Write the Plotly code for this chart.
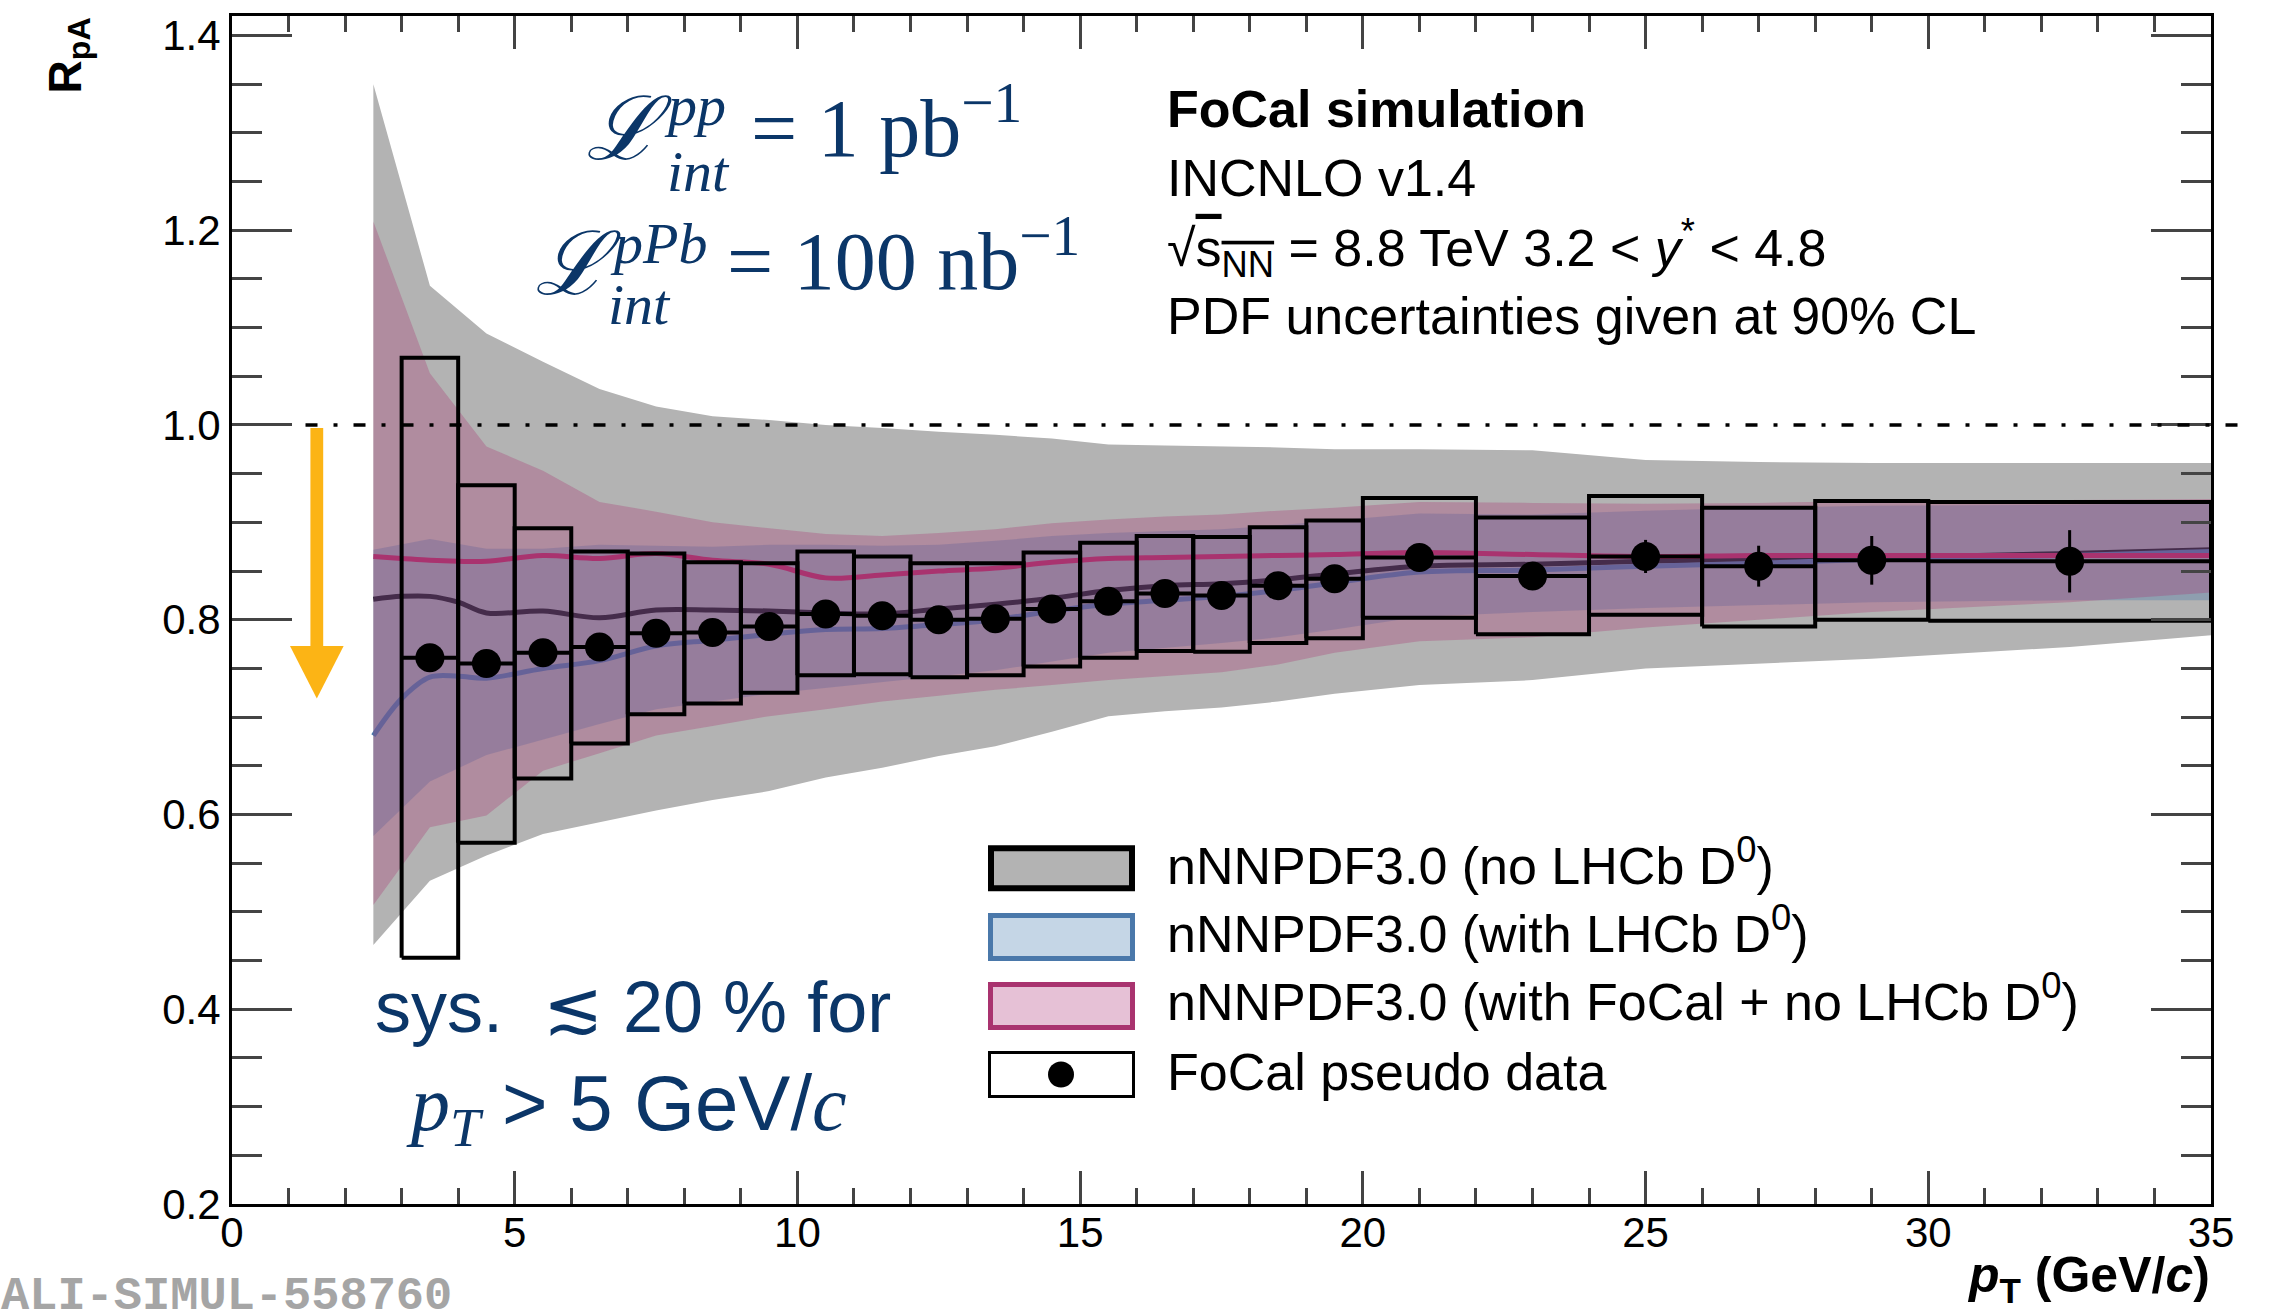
import plotly.graph_objects as go

# ---------------- data ----------------
band_x = [2.5, 3.5, 4.5, 5.5, 6.5, 7.5, 8.5, 9.5, 10.5, 11.5, 12.5, 13.5, 14.5, 15.5,
          16.5, 17.5, 18.5, 19.5, 21, 23, 25, 27, 29, 32.5, 35]
nolhcb_hi = [1.350, 1.143, 1.094, 1.065, 1.037, 1.019, 1.009, 1.005, 1.000, 0.997, 0.993, 0.990,
             0.986, 0.980, 0.979, 0.978, 0.977, 0.975, 0.975, 0.974, 0.964, 0.962, 0.961, 0.961, 0.961]
nolhcb_lo = [0.466, 0.532, 0.558, 0.580, 0.592, 0.604, 0.615, 0.624, 0.638, 0.648, 0.660, 0.670,
             0.685, 0.701, 0.706, 0.710, 0.716, 0.724, 0.733, 0.738, 0.750, 0.755, 0.760, 0.772, 0.784]
focal_hi = [1.209, 1.053, 0.978, 0.953, 0.921, 0.911, 0.900, 0.894, 0.888, 0.886, 0.889, 0.893,
            0.899, 0.903, 0.906, 0.908, 0.912, 0.915, 0.921, 0.920, 0.919, 0.920, 0.922, 0.923, 0.924]
focal_lo = [0.507, 0.587, 0.599, 0.645, 0.663, 0.681, 0.691, 0.701, 0.708, 0.716, 0.722, 0.728,
            0.733, 0.738, 0.742, 0.746, 0.754, 0.766, 0.778, 0.782, 0.792, 0.800, 0.808, 0.818, 0.828]
lhcb_hi = [0.872, 0.883, 0.873, 0.873, 0.877, 0.876, 0.875, 0.877, 0.877, 0.876, 0.877, 0.881,
           0.886, 0.889, 0.891, 0.893, 0.897, 0.902, 0.909, 0.908, 0.912, 0.915, 0.917, 0.918, 0.920]
lhcb_lo = [0.578, 0.634, 0.661, 0.677, 0.693, 0.708, 0.716, 0.724, 0.730, 0.736, 0.742, 0.748,
           0.757, 0.766, 0.771, 0.776, 0.782, 0.790, 0.803, 0.808, 0.812, 0.815, 0.818, 0.820, 0.820]

curve_x = [2.5, 3.0, 3.5, 4.0, 4.5, 5.5, 6.5, 7.5, 8.5, 9.5, 10.5, 11.5, 12.5, 13.5, 14.5, 15.5,
           16.5, 17.5, 18.5, 19.5, 21, 23, 25, 27, 29, 32.5, 35]
focal_c = [0.865, 0.863, 0.861, 0.860, 0.860, 0.866, 0.863, 0.868, 0.861, 0.857, 0.843, 0.846, 0.850,
           0.853, 0.859, 0.863, 0.864, 0.865, 0.866, 0.867, 0.869, 0.867, 0.865, 0.866, 0.866, 0.866, 0.866]
nolhcb_c = [0.821, 0.824, 0.824, 0.818, 0.807, 0.809, 0.802, 0.810, 0.810, 0.809, 0.807, 0.806, 0.811,
            0.816, 0.822, 0.830, 0.835, 0.837, 0.841, 0.847, 0.855, 0.857, 0.860, 0.862, 0.864, 0.868, 0.872]
lhcb_c = [0.681, 0.719, 0.741, 0.742, 0.740, 0.750, 0.758, 0.773, 0.779, 0.785, 0.790, 0.791, 0.795,
          0.800, 0.809, 0.816, 0.820, 0.824, 0.830, 0.838, 0.849, 0.851, 0.855, 0.858, 0.862, 0.866, 0.870]

bin_lo = [3, 4, 5, 6, 7, 8, 9, 10, 11, 12, 13, 14, 15, 16, 17, 18, 19, 20, 22, 24, 26, 28, 30]
bin_hi = [4, 5, 6, 7, 8, 9, 10, 11, 12, 13, 14, 15, 16, 17, 18, 19, 20, 22, 24, 26, 28, 30, 35]
data_x = [3.5, 4.5, 5.5, 6.5, 7.5, 8.5, 9.5, 10.5, 11.5, 12.5, 13.5, 14.5, 15.5, 16.5, 17.5,
          18.5, 19.5, 21, 23, 25, 27, 29, 32.5]
data_y = [0.761, 0.755, 0.766, 0.772, 0.786, 0.787, 0.793, 0.806, 0.804, 0.800, 0.801, 0.811,
          0.819, 0.827, 0.825, 0.835, 0.842, 0.864, 0.845, 0.865, 0.855, 0.861, 0.860]
stat_err = [0.005, 0.005, 0.005, 0.005, 0.005, 0.005, 0.006, 0.006, 0.006, 0.006, 0.007, 0.007,
            0.007, 0.008, 0.008, 0.009, 0.009, 0.011, 0.013, 0.017, 0.021, 0.025, 0.032]
sys_hi = [1.069, 0.938, 0.894, 0.870, 0.868, 0.859, 0.858, 0.870, 0.865, 0.858, 0.858, 0.869,
          0.879, 0.886, 0.885, 0.895, 0.902, 0.925, 0.905, 0.927, 0.915, 0.922, 0.921]
sys_lo = [0.453, 0.571, 0.637, 0.673, 0.703, 0.714, 0.725, 0.743, 0.744, 0.741, 0.743, 0.752,
          0.761, 0.768, 0.767, 0.776, 0.781, 0.802, 0.785, 0.805, 0.793, 0.800, 0.799]

x_ticks_major = 5
y_ticks_major = 0.2
x_range = [0, 35]
y_range = [0.2, 1.42]

# ---------------- colours ----------------
GRAY = "rgb(179,179,179)"
BLUE = "rgb(74,120,170)"
PINK = "rgb(169,51,111)"
NAVY = "#0b3668"
ORANGE = "#fcb415"

fig = go.Figure()


def band(x, lo, hi, color):
    return go.Scatter(x=list(x) + list(x)[::-1], y=list(hi) + list(lo)[::-1], fill="toself",
                      fillcolor=color, line=dict(width=0), mode="lines", hoverinfo="skip")


fig.add_trace(band(band_x, nolhcb_lo, nolhcb_hi, GRAY))
fig.add_trace(go.Scatter(x=curve_x, y=nolhcb_c, mode="lines", line=dict(color="black", width=5, shape="spline")))
fig.add_trace(band(band_x, lhcb_lo, lhcb_hi, "rgba(74,120,170,0.35)"))
fig.add_trace(go.Scatter(x=curve_x, y=lhcb_c, mode="lines", line=dict(color=BLUE, width=5, shape="spline")))
fig.add_trace(band(band_x, focal_lo, focal_hi, "rgba(169,51,111,0.30)"))
fig.add_trace(go.Scatter(x=curve_x, y=focal_c, mode="lines", line=dict(color=PINK, width=5, shape="spline")))

# systematic boxes
bx, by = [], []
for lo, hi, b, t in zip(bin_lo, bin_hi, sys_lo, sys_hi):
    bx += [lo, hi, hi, lo, lo, None]
    by += [b, b, t, t, b, None]
fig.add_trace(go.Scatter(x=bx, y=by, mode="lines", line=dict(color="black", width=4)))

half_w = [(h - l) / 2 for l, h in zip(bin_lo, bin_hi)]
fig.add_trace(go.Scatter(
    x=data_x, y=data_y, mode="markers", marker=dict(size=29, color="black"),
    error_y=dict(type="data", array=stat_err, width=0, thickness=3, color="black"),
    error_x=dict(type="data", array=half_w, width=0, thickness=4, color="black")))

# ---------------- pixel helpers ----------------
W, H = 2275, 1316
L, R, T, B = 232, 2211, 15.5, 1204


def fx(p):
    return (p - L) / (R - L)


def fy(p):
    return (B - p) / (B - T)


def ypap(v):
    return (v - y_range[0]) / (y_range[1] - y_range[0])


def xpap(v):
    return (v - x_range[0]) / (x_range[1] - x_range[0])


ann = []


def txt(s, x, y, size, anchor="bottom", xanchor="left", family="Liberation Sans", color="black", angle=0):
    ann.append(dict(text=s, x=fx(x), y=fy(y), xref="paper", yref="paper", showarrow=False,
                    xanchor=xanchor, yanchor=anchor, textangle=angle, borderpad=0,
                    font=dict(size=size, family=family, color=color)))


# header text (Helvetica-like)
S = 52
txt("<b>FoCal simulation</b>", 1166, 128 + 0.212 * S, S)
txt("INCNLO v1.4", 1166, 197 + 0.212 * S, S)
txt("√<span style=\"text-decoration:overline\">s<sub>NN</sub></span> = 8.8 TeV 3.2 &lt; <i>y</i><sup>*</sup> &lt; 4.8",
    1166, 267 + 0.358 * S, S)
txt("PDF uncertainties given at 90% CL", 1166, 335 + 0.212 * S, S)

# luminosity text
LS, SS = 82, 58
txt("<i>ℒ</i>", 585, 160 + 0.236 * 88, 88, family="DejaVu Serif", color=NAVY)
txt("<i>pp</i>", 663, 123 - 0.891 * SS, SS, anchor="top", family="Liberation Serif", color=NAVY)
txt("<i>int</i>", 666, 189 - 0.891 * SS, SS, anchor="top", family="Liberation Serif", color=NAVY)
txt("= 1 pb<sup>−1</sup>", 750, 157 + 0.216 * LS, LS, family="Liberation Serif", color=NAVY)
txt("<i>ℒ</i>", 534, 295 + 0.236 * 88, 88, family="DejaVu Serif", color=NAVY)
txt("<i>pPb</i>", 609, 261 - 0.891 * SS, SS, anchor="top", family="Liberation Serif", color=NAVY)
txt("<i>int</i>", 607, 322 - 0.891 * SS, SS, anchor="top", family="Liberation Serif", color=NAVY)
txt("= 100 nb<sup>−1</sup>", 726, 290 + 0.216 * LS, LS, family="Liberation Serif", color=NAVY)

# sys text
txt("sys.\u00a0 ≲ 20 % for", 374, 1031 - 0.905 * 72, 72, anchor="top", color=NAVY)
txt("<span style=\"font-family:Liberation Serif\"><i>p</i><sub><i>T</i></sub></span> &gt; 5 GeV/"
    "<span style=\"font-family:Liberation Serif\"><i>c</i></span>",
    405, 1129 - 0.905 * 78, 78, anchor="top", color=NAVY)

# legend
leg_names = ["nNNPDF3.0 (no LHCb D<sup>0</sup>)", "nNNPDF3.0 (with LHCb D<sup>0</sup>)",
             "nNNPDF3.0 (with FoCal + no LHCb D<sup>0</sup>)", "FoCal pseudo data"]
leg_base = [885, 953, 1021, 1091]
leg_box = [(845, 891), (913, 961), (982, 1030), (1051, 1098)]
leg_fill = [GRAY, "rgb(197,214,230)", "rgb(230,193,214)", "white"]
leg_line = ["black", BLUE, PINK, "black"]
leg_lw = [6, 5, 5, 3]
shapes = []
for name, base, (y0, y1), fc, lc, lw in zip(leg_names, leg_base, leg_box, leg_fill, leg_line, leg_lw):
    txt(name, 1166, base + 0.212 * S, S)
    h = lw / 2
    shapes.append(dict(type="rect", xref="paper", yref="paper", x0=fx(988 + h), x1=fx(1135 - h),
                       y0=fy(y1 - h), y1=fy(y0 + h), fillcolor=fc, line=dict(color=lc, width=lw)))
cy = sum(leg_box[3]) / 2
shapes.append(dict(type="circle", xref="paper", yref="paper", x0=fx(1061 - 13), x1=fx(1061 + 13),
                   y0=fy(cy + 13), y1=fy(cy - 13), fillcolor="black", line=dict(width=0)))

# axis titles
txt("<b>R<sub>pA</sub></b>", 68, 55, 46, anchor="middle", xanchor="center", angle=-90)
txt("<b><i>p</i><sub>T</sub> (GeV/<i>c</i>)</b>", 2211, 1291 - 0.905 * 50, 50, anchor="top", xanchor="right")

# watermark
txt("<b>ALI-SIMUL-558760</b>", 0, 1310 + 0.3 * 47, 47, family="Liberation Mono", color="#a5a5a5")

# dash-dot reference line at unity
shapes.append(dict(type="line", xref="paper", yref="paper", x0=xpap(1.3), x1=xpap(35.75),
                   y0=ypap(1.0), y1=ypap(1.0), line=dict(color="black", width=3.5, dash="12px,16px,4px,16px")))

# orange arrow
ax_c, shaft_hw, head_hw = 1.5, 0.113, 0.474
y_top, y_head, y_tip = 0.997, 0.773, 0.719
shapes.append(dict(type="rect", xref="x", yref="y", x0=ax_c - shaft_hw, x1=ax_c + shaft_hw,
                   y0=y_head, y1=y_top, fillcolor=ORANGE, line=dict(width=0)))
shapes.append(dict(type="path", xref="x", yref="y",
                   path=f"M {ax_c - head_hw},{y_head} L {ax_c + head_hw},{y_head} L {ax_c},{y_tip} Z",
                   fillcolor=ORANGE, line=dict(width=0)))

fig.update_layout(
    width=W, height=H, margin=dict(l=L, r=W - R, t=T, b=H - B, pad=0),
    paper_bgcolor="white", plot_bgcolor="white", showlegend=False,
    font=dict(family="Liberation Sans", color="black"),
    annotations=ann, shapes=shapes,
    xaxis=dict(range=x_range, dtick=x_ticks_major, tick0=0, ticks="inside", ticklen=33, tickwidth=3,
               showline=True, linewidth=3, linecolor="black", mirror="ticks", showgrid=False, zeroline=False,
               tickfont=dict(size=42, family="Liberation Sans"), ticklabelstandoff=-10,
               minor=dict(ticks="inside", ticklen=16, tickwidth=3, dtick=1, showgrid=False)),
    yaxis=dict(range=y_range, dtick=y_ticks_major, tick0=0.2, ticks="inside", ticklen=60, tickwidth=3,
               tickformat=".1f", showline=True, linewidth=3, linecolor="black", mirror="ticks",
               showgrid=False, zeroline=False, tickfont=dict(size=42, family="Liberation Sans"),
               minor=dict(ticks="inside", ticklen=30, tickwidth=3, dtick=0.05, showgrid=False)),
)

fig.write_html("out.html")
